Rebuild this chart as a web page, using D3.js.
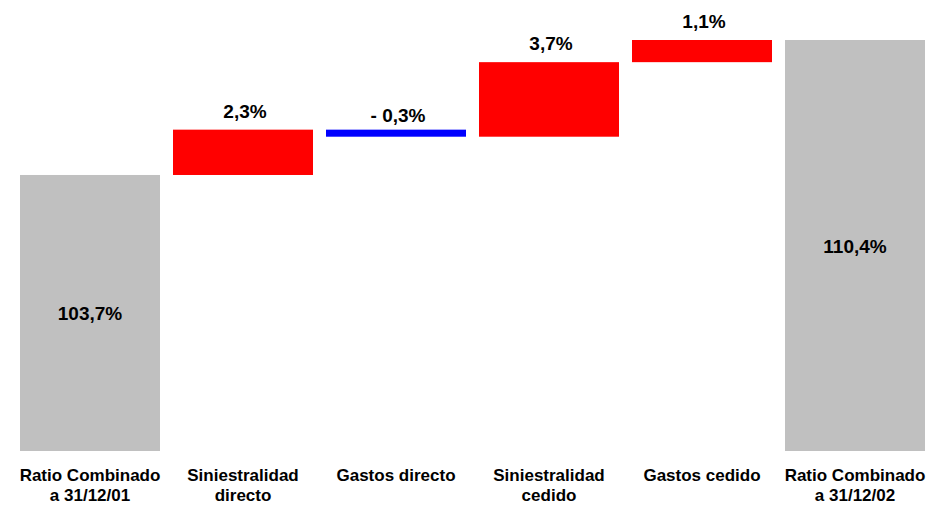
<!DOCTYPE html>
<html>
<head>
<meta charset="utf-8">
<script src="https://cdn.jsdelivr.net/npm/d3@7/dist/d3.min.js"></script>
<style>
  html, body { margin: 0; padding: 0; background: #fff; }
  svg { display: block; font-family: "Liberation Sans", Arial, sans-serif; }
</style>
</head>
<body>
<svg id="chart" width="939" height="507"></svg>
<script>
const categories = [
  ["Ratio Combinado", "a 31/12/01"],
  ["Siniestralidad", "directo"],
  ["Gastos directo"],
  ["Siniestralidad", "cedido"],
  ["Gastos cedido"],
  ["Ratio Combinado", "a 31/12/02"]
];
const kinds = ["total", "delta", "delta", "delta", "delta", "total"];
// values as drawn (bar extents)
const values = [103.7, 2.25, -0.35, 3.7, 1.1, 110.4];
const valueLabels = ["103,7%", "2,3%", "- 0,3%", "3,7%", "1,1%", "110,4%"];
const yDomain = [90, 110.4];

const svg = d3.select("#chart");
const keys = categories.map((c, i) => "c" + i);

let running = 0;
const bars = values.map((v, i) => {
  let y0, y1;
  if (kinds[i] === "total") { y0 = yDomain[0]; y1 = v; running = v; }
  else { y0 = running; y1 = running + v; running = y1; }
  return { key: keys[i], kind: kinds[i], v, y0, y1, label: valueLabels[i] };
});

const pIn = 13 / 153;
const x = d3.scaleBand().domain(keys).range([13.5, 931.5])
  .paddingInner(pIn).paddingOuter(pIn / 2);
const y = d3.scaleLinear().domain(yDomain).range([451, 40]);

const color = d => d.kind === "total" ? "#C0C0C0" : (d.v >= 0 ? "#FF0000" : "#0000FF");

svg.append("g").selectAll("rect").data(bars).join("rect")
  .attr("x", d => x(d.key))
  .attr("width", x.bandwidth())
  .attr("y", d => y(Math.max(d.y0, d.y1)))
  .attr("height", d => Math.abs(y(d.y0) - y(d.y1)))
  .attr("fill", color);

svg.append("g").selectAll("text").data(bars).join("text")
  .attr("x", d => x(d.key) + x.bandwidth() / 2 + (d.kind === "total" ? 0 : 2))
  .attr("y", d => d.kind === "total"
      ? (y(d.y0) + y(d.y1)) / 2 + 7
      : y(Math.max(d.y0, d.y1)) - (d.v < 0 ? 8 : 12))
  .attr("text-anchor", "middle")
  .attr("font-size", 19)
  .attr("font-weight", "bold")
  .attr("fill", "#000")
  .text(d => d.label);

const axis = d3.axisBottom(x).tickSize(0).tickPadding(0).tickFormat(() => "");
const gAxis = svg.append("g").attr("transform", "translate(0,451)").call(axis);
gAxis.select(".domain").remove();
gAxis.selectAll(".tick text").each(function(d, i) {
  const t = d3.select(this)
    .attr("y", 30)
    .attr("dy", null)
    .attr("font-size", 17)
    .attr("font-weight", "bold")
    .attr("fill", "#000")
    .attr("font-family", "'Liberation Sans', Arial, sans-serif");
  categories[i].forEach((line, j) => {
    t.append("tspan").attr("x", 0).attr("y", 30 + j * 20).text(line);
  });
});
</script>
</body>
</html>
